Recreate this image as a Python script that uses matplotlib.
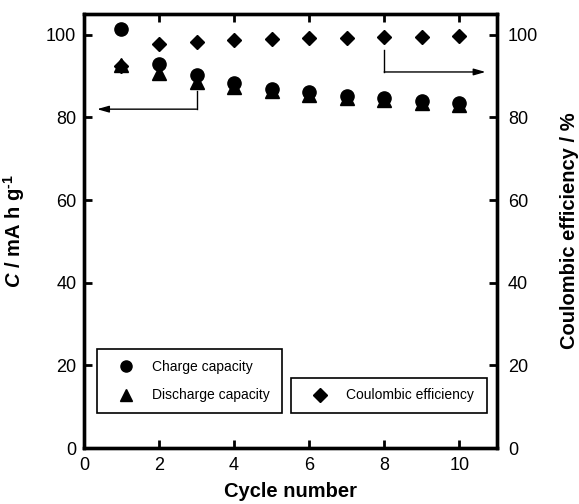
import matplotlib
matplotlib.use("Agg")
import matplotlib.pyplot as plt

plt.rcParams["font.family"] = ["Liberation Sans", "DejaVu Sans"]
plt.rcParams["mathtext.fontset"] = "custom"
plt.rcParams["mathtext.rm"] = "Liberation Sans:bold"
plt.rcParams["mathtext.it"] = "Liberation Sans:bold:italic"

cycles = [1, 2, 3, 4, 5, 6, 7, 8, 9, 10]
charge = [101.4, 93.0, 90.3, 88.3, 87.0, 86.1, 85.3, 84.7, 84.0, 83.5]
discharge = [92.8, 90.8, 88.6, 87.4, 86.4, 85.5, 84.8, 84.2, 83.6, 83.1]
efficiency = [92.5, 97.7, 98.3, 98.8, 99.0, 99.1, 99.2, 99.4, 99.5, 99.7]

fig = plt.figure(figsize=(5.79, 5.04), dpi=100)
ax = fig.add_axes([0.145, 0.111, 0.713, 0.861])
ax2 = ax.twinx()

h1, = ax.plot(cycles, charge, "o", color="k", ms=9.5, ls="none", zorder=3)
h2, = ax.plot(cycles, discharge, "^", color="k", ms=9.5, ls="none", zorder=3)
h3, = ax2.plot(cycles, efficiency, "D", color="k", ms=7.2, ls="none", zorder=3)

ax.set_xlim(0, 11)
ax.set_ylim(0, 105)
ax2.set_ylim(0, 105)
ax.set_xticks(range(0, 11, 2))
ax.set_yticks(range(0, 101, 20))
ax2.set_yticks(range(0, 101, 20))

for a in (ax, ax2):
    for s in a.spines.values():
        s.set_linewidth(2.4)
ax.tick_params(axis="both", direction="in", length=6, width=2, labelsize=13)
ax.tick_params(axis="x", top=True, pad=6.5)
ax.tick_params(axis="y", pad=5.5)
ax2.tick_params(axis="y", direction="in", length=6, width=2, labelsize=13, pad=8)

ax.set_xlabel("Cycle number", fontsize=14.5, fontweight="bold", labelpad=6)
ax.set_ylabel(r"$C$ / mA h g$^{\text{-1}}$", fontsize=14.5,
              fontweight="bold", labelpad=14)
ax2.set_ylabel("Coulombic efficiency / %", fontsize=14.5, fontweight="bold",
               labelpad=16)

# arrows pointing each series to its axis
ax.plot([3, 3], [86.3, 82], color="k", lw=1)
ax.annotate("", xy=(0.35, 82), xytext=(3.0, 82),
            arrowprops=dict(arrowstyle="-|>,head_length=0.7,head_width=0.2",
                            color="k", lw=1, shrinkA=0, shrinkB=0))
ax.plot([8, 8], [96.2, 91], color="k", lw=1)
ax.annotate("", xy=(10.7, 91), xytext=(8.0, 91),
            arrowprops=dict(arrowstyle="-|>,head_length=0.7,head_width=0.2",
                            color="k", lw=1, shrinkA=0, shrinkB=0))

leg_kw = dict(loc="lower left", mode="expand", fancybox=False, framealpha=1,
              edgecolor="k", fontsize=10, numpoints=1, borderpad=0.75,
              labelspacing=1.05, handlelength=2.7, handletextpad=0.55,
              borderaxespad=0)
leg1 = ax2.legend([h1, h2], ["Charge capacity", "Discharge capacity"],
                  bbox_to_anchor=(0.031, 0.081, 0.448, 0.14), **leg_kw)
leg1.get_frame().set_linewidth(1.2)
ax2.add_artist(leg1)
leg2 = ax2.legend([h3], ["Coulombic efficiency"],
                  bbox_to_anchor=(0.501, 0.081, 0.475, 0.07), **leg_kw)
leg2.get_frame().set_linewidth(1.2)
for hd in leg1.legend_handles:
    hd.set_markersize(8)
for hd in leg2.legend_handles:
    hd.set_markersize(7)

fig.savefig("out.png", dpi=100)
